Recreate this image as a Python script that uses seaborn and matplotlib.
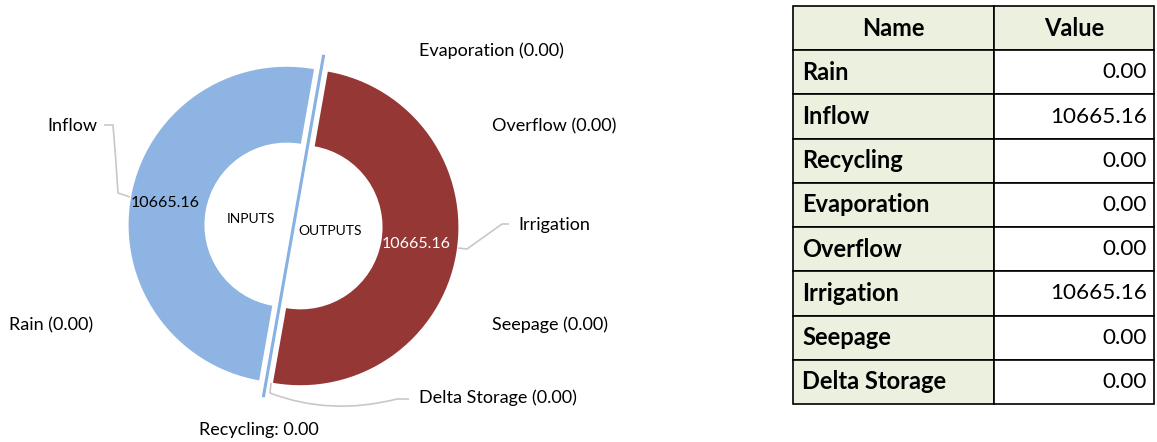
import matplotlib
matplotlib.use("Agg")
import matplotlib.pyplot as plt
from matplotlib.path import Path
from matplotlib.patches import PathPatch
import numpy as np
import seaborn as sns

# ---------------- data ----------------
input_names = ["Rain", "Inflow", "Recycling"]
input_values = [0.00, 10665.16, 0.00]
output_names = ["Evaporation", "Overflow", "Irrigation", "Seepage", "Delta Storage"]
output_values = [0.00, 0.00, 10665.16, 0.00, 0.00]
table_names = ["Rain", "Inflow", "Recycling", "Evaporation", "Overflow",
               "Irrigation", "Seepage", "Delta Storage"]
table_values = [0.00, 10665.16, 0.00, 0.00, 0.00, 10665.16, 0.00, 0.00]
table_header = ["Name", "Value"]

# ---------------- style ----------------
sns.set_theme(style="white")
FONT = ["Lato", "DejaVu Sans"]
plt.rcParams["font.family"] = FONT
plt.rcParams["text.color"] = "black"

BLUE = "#8DB4E2"
RED = "#953735"
LINE_BLUE = "#85B1E3"
LEADER = "#C8C8C8"
HEAD_BG = "#EBF1DE"

W, H = 1157, 442
fig = plt.figure(figsize=(W / 100, H / 100), dpi=100)
ax = fig.add_axes([0, 0, 1, 1])


def py(y):
    """convert pixel-from-top to data y (y up)"""
    return H - y


# ---------------- donut ----------------
values = output_values + input_values
names = output_names + input_names
colors = [RED] * len(output_values) + [BLUE] * len(input_values)
total = sum(values)
R = 158
CX, CY = 293.5, py(226)
START = 80


def fmt(p):
    v = p / 100 * total
    return f"{v:.2f}" if v > 0 else ""


wedges, texts, autotexts = ax.pie(
    values, colors=colors, startangle=START, counterclock=False,
    radius=R, center=(CX, CY), explode=[7] * len(values),
    wedgeprops=dict(width=R * 0.48, edgecolor="none", linewidth=0),
    autopct=fmt, pctdistance=0.78,
    textprops=dict(fontsize=11.5, family=FONT, color="black"),
)
for name, t in zip(names, autotexts):
    if name in output_names:
        t.set_color("white")
        x, y = t.get_position()
        t.set_position((x - 6, y + 5))
    else:
        t.set_color("black")

# separator line through the centre
a = np.deg2rad(START)
L = 1.1 * R
ax.plot([CX - L * np.cos(a), CX + L * np.cos(a)],
        [CY - L * np.sin(a), CY + L * np.sin(a)],
        color=LINE_BLUE, lw=2.2, solid_capstyle="butt", zorder=3)

ax.text(251, py(219), "INPUTS", ha="center", va="center", fontsize=10)
ax.text(330, py(231), "OUTPUTS", ha="center", va="center", fontsize=10)

# category labels
lab_fs = 13
ax.text(97, py(126), "Inflow", ha="right", va="center", fontsize=lab_fs)
ax.text(9, py(325), f"Rain ({input_values[0]:.2f})", ha="left", va="center", fontsize=lab_fs)
ax.text(259, py(430), f"Recycling: {input_values[2]:.2f}", ha="center", va="center", fontsize=lab_fs)
ax.text(419, py(51), f"Evaporation ({output_values[0]:.2f})", ha="left", va="center", fontsize=lab_fs)
ax.text(492, py(126), f"Overflow ({output_values[1]:.2f})", ha="left", va="center", fontsize=lab_fs)
ax.text(518, py(225), "Irrigation", ha="left", va="center", fontsize=lab_fs)
ax.text(492, py(325), f"Seepage ({output_values[3]:.2f})", ha="left", va="center", fontsize=lab_fs)
ax.text(419, py(398), f"Delta Storage ({output_values[4]:.2f})", ha="left", va="center", fontsize=lab_fs)

# leader lines
def leader(verts, codes):
    p = Path([(x, py(y)) for x, y in verts], codes)
    ax.add_patch(PathPatch(p, facecolor="none", edgecolor=LEADER, lw=1.2,
                           joinstyle="round", zorder=1))

M, Ln, C3 = Path.MOVETO, Path.LINETO, Path.CURVE3
leader([(104, 125), (113, 125), (116, 160), (118, 193), (130, 197)],
       [M, Ln, C3, C3, Ln])
leader([(458, 248), (467, 249), (502, 224), (509, 224)], [M, Ln, Ln, Ln])
leader([(271, 383), (270, 393), (330, 416), (397, 399), (409, 399)],
       [M, Ln, C3, C3, Ln])

ax.set_xlim(0, W)
ax.set_ylim(0, H)
ax.set_aspect("auto")
ax.axis("off")

# ---------------- table ----------------
cell_text = [[n, f"{v:.2f}"] for n, v in zip(table_names, table_values)]
cell_colours = [[HEAD_BG, "white"] for _ in table_names]
x0, x1 = 793, 1154
y0, y1 = 6, 404
tbl = ax.table(
    cellText=cell_text, colLabels=table_header, cellColours=cell_colours,
    colColours=[HEAD_BG, HEAD_BG],
    colWidths=[(994 - 793) / (x1 - x0), (1154 - 994) / (x1 - x0)],
    bbox=[x0 / W, (H - y1) / H, (x1 - x0) / W, (y1 - y0) / H],
)
tbl.auto_set_font_size(False)
for (r, c), cell in tbl.get_celld().items():
    cell.set_edgecolor("black")
    cell.set_linewidth(1.2)
    cell.PAD = 0.045
    t = cell.get_text()
    t.set_family(FONT)
    t.set_color("black")
    if r == 0:
        t.set_fontsize(17)
        t.set_fontweight("bold")
        cell._loc = "center"
        t.set_ha("center")
    elif c == 0:
        t.set_fontsize(17)
        t.set_fontweight("bold")
        cell._loc = "left"
        t.set_ha("left")
    else:
        t.set_fontsize(16.2)
        cell._loc = "right"
        t.set_ha("right")

fig.savefig("out.png", dpi=100, facecolor="white")
